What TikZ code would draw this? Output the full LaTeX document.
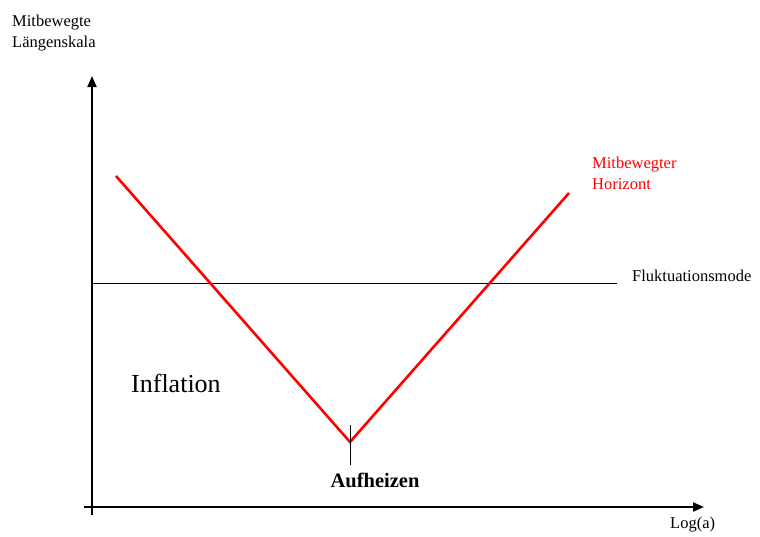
\documentclass[tikz,border=0pt]{standalone}
\usepackage{fontspec}
\setmainfont{Liberation Serif}
\usetikzlibrary{arrows.meta}
\begin{document}
\begin{tikzpicture}[x=1pt,y=-1pt,
    every node/.style={inner sep=0pt,anchor=west},
    axis/.style={line width=2pt},
    curve/.style={red,line width=2.6pt},
    lbl/.style={font=\fontsize{16.5}{21}\selectfont,align=left}]
    \useasboundingbox (0,0) rectangle (760,536);
    % axes
    \coordinate (o) at (92,507);
    \coordinate (yb) at (92,515);
    \coordinate (yt) at (92,76);
    \coordinate (xl) at (84,507);
    \coordinate (xr) at (704,507);
    \draw[axis,-{Triangle[length=11pt,width=9pt]}] (yb)--(yt);
    \draw[axis,-{Triangle[length=11pt,width=9pt]}] (xl)--(xr);
    % fluctuation mode
    \coordinate (f1) at (92,283);
    \coordinate (f2) at (617,283);
    \draw[line width=1pt] (f1)--(f2);
    % comoving horizon
    \coordinate (h1) at (116,176);
    \coordinate (h0) at (350,442);
    \coordinate (h2) at (569,193);
    \draw[curve] (h1)--(h0)--(h2);
    % reheating tick
    \coordinate (t1) at (350,425);
    \coordinate (t2) at (350,465);
    \draw[line width=1pt] (t1)--(t2);
    % labels
    \node[lbl] (ylab) at (12,33) {Mitbewegte\\Längenskala};
    \node[lbl,red] (hor) at (592,173) {Mitbewegter\\Horizont};
    \node[lbl] (mode) at (632,276) {Fluktuationsmode};
    \node[font=\fontsize{26}{30}\selectfont] (infl) at (131,383) {Inflation};
    \node[font=\fontsize{20.5}{24}\selectfont\bfseries,anchor=center] (heat) at (375,480) {Aufheizen};
    \node[lbl] (xlab) at (670,525) {Log(a)};
\end{tikzpicture}
\end{document}
